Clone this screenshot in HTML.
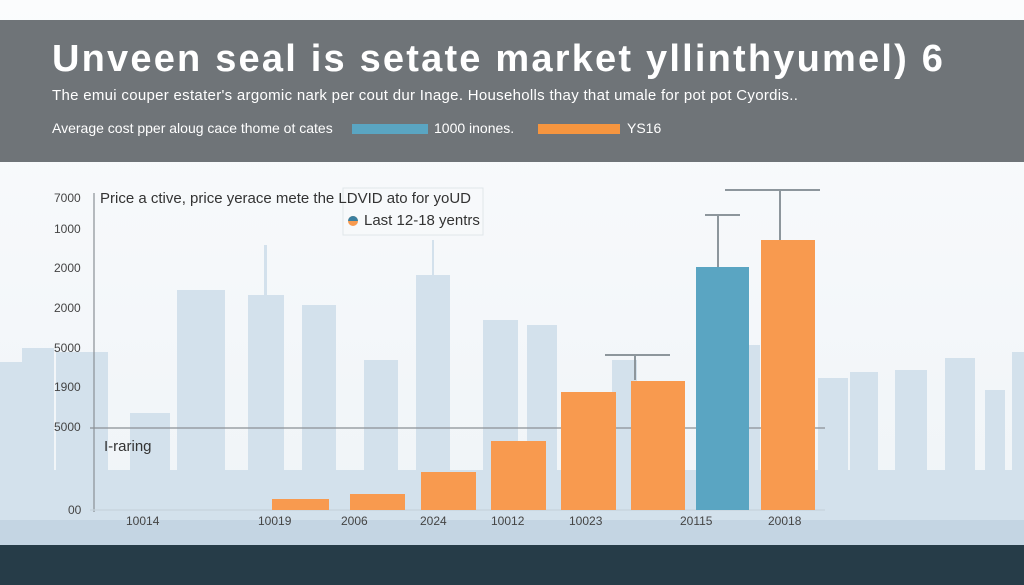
<!DOCTYPE html>
<html><head><meta charset="utf-8"><style>
body{margin:0;width:1024px;height:585px;overflow:hidden;background:#f3f6f8;font-family:"Liberation Sans",sans-serif;position:relative}
.a{position:absolute;white-space:nowrap}
</style></head><body>
<svg class="a" style="left:0;top:0" width="1024" height="585">
<defs><linearGradient id="bg" x1="0" y1="0" x2="0" y2="1"><stop offset="0" stop-color="#fbfcfd"/><stop offset="1" stop-color="#eef3f7"/></linearGradient></defs>
<rect width="1024" height="585" fill="url(#bg)"/>
<g fill="#d3e1ec">
<rect x="0" y="362" width="22" height="180"/><rect x="22" y="348" width="32" height="194"/><rect x="56" y="352" width="52" height="190"/>
<rect x="130" y="413" width="40" height="130"/><rect x="177" y="290" width="48" height="253"/><rect x="248" y="295" width="36" height="248"/>
<rect x="302" y="305" width="34" height="238"/><rect x="364" y="360" width="34" height="183"/><rect x="416" y="275" width="34" height="268"/>
<rect x="483" y="320" width="35" height="223"/><rect x="527" y="325" width="30" height="218"/><rect x="612" y="360" width="25" height="183"/>
<rect x="748" y="345" width="12" height="198"/><rect x="818" y="378" width="30" height="165"/><rect x="850" y="372" width="28" height="171"/>
<rect x="895" y="370" width="32" height="173"/><rect x="945" y="358" width="30" height="185"/><rect x="985" y="390" width="20" height="153"/><rect x="1012" y="352" width="12" height="191"/>
<rect x="0" y="470" width="1024" height="75"/>
<rect x="264" y="245" width="3" height="50"/><rect x="432" y="240" width="2" height="40"/>
</g>
<g fill="#c4d5e3"><rect x="0" y="520" width="1024" height="25"/></g>
<rect x="0" y="20" width="1024" height="142" fill="#6f7478"/>
<rect x="0" y="545" width="1024" height="40" fill="#263c48"/>
<g stroke="#8a9095" stroke-width="1.2"><line x1="94" y1="193" x2="94" y2="512"/><line x1="90" y1="428" x2="825" y2="428"/><line x1="90" y1="510" x2="825" y2="510" stroke="#c6d2dc"/></g>
<g stroke="#8d969c" stroke-width="2" fill="none"><path d="M705 215 H740 M718 215 V267 M725 190 H820 M780 190 V240 M605 355 H670 M635 355 V380"/></g>
<g fill="#f89a4f"><rect x="272" y="499" width="57" height="11"/><rect x="350" y="494" width="55" height="16"/><rect x="421" y="472" width="55" height="38"/><rect x="491" y="441" width="55" height="69"/><rect x="561" y="392" width="55" height="118"/><rect x="631" y="381" width="54" height="129"/><rect x="761" y="240" width="54" height="270"/></g>
<rect x="696" y="267" width="53" height="243" fill="#5aa5c2"/>
<rect x="343" y="188" width="140" height="47" fill="#f8fafb" opacity=".85" stroke="#dde3e8"/>
<circle cx="353" cy="221" r="5" fill="#f89a4f"/><path d="M348 221a5 5 0 0 1 10 0z" fill="#3a7fa0"/>
<rect x="352" y="124" width="76" height="10" fill="#5aa5c2"/><rect x="538" y="124" width="82" height="10" fill="#f6953f"/>
</svg>
<div class="a" style="left:52px;top:38px;font-size:38px;font-weight:bold;color:#fff;letter-spacing:2.2px">Unveen seal is setate market yllinthyumel) 6</div>
<div class="a" style="left:52px;top:87px;font-size:15px;color:#fff;letter-spacing:0.3px">The emui couper estater's argomic nark per cout dur Inage. Householls thay that umale for pot pot Cyordis..</div>
<div class="a" style="left:52px;top:120px;font-size:14px;color:#fff;letter-spacing:0px">Average cost pper aloug cace thome ot cates</div>
<div class="a" style="left:434px;top:120px;font-size:14px;color:#fff">1000 inones.</div>
<div class="a" style="left:627px;top:120px;font-size:14px;color:#fff">YS16</div>
<div class="a" style="left:100px;top:190px;font-size:15px;color:#333">Price a ctive, price yerace mete the LDVID ato for yoUD</div>
<div class="a" style="left:364px;top:212px;font-size:15px;color:#333">Last 12-18 yentrs</div>
<div class="a" style="left:104px;top:438px;font-size:15px;color:#333">I-raring</div>
<div class="a" style="left:0;top:0;font-size:12px;color:#444">
<span class="a" style="left:54px;top:191px">7000</span><span class="a" style="left:54px;top:222px">1000</span><span class="a" style="left:54px;top:261px">2000</span><span class="a" style="left:54px;top:301px">2000</span><span class="a" style="left:54px;top:341px">5000</span><span class="a" style="left:54px;top:380px">1900</span><span class="a" style="left:54px;top:420px">5000</span><span class="a" style="left:68px;top:503px">00</span>
<span class="a" style="left:126px;top:514px">10014</span><span class="a" style="left:258px;top:514px">10019</span><span class="a" style="left:341px;top:514px">2006</span><span class="a" style="left:420px;top:514px">2024</span><span class="a" style="left:491px;top:514px">10012</span><span class="a" style="left:569px;top:514px">10023</span><span class="a" style="left:680px;top:514px">20115</span><span class="a" style="left:768px;top:514px">20018</span>
</div>
</body></html>
